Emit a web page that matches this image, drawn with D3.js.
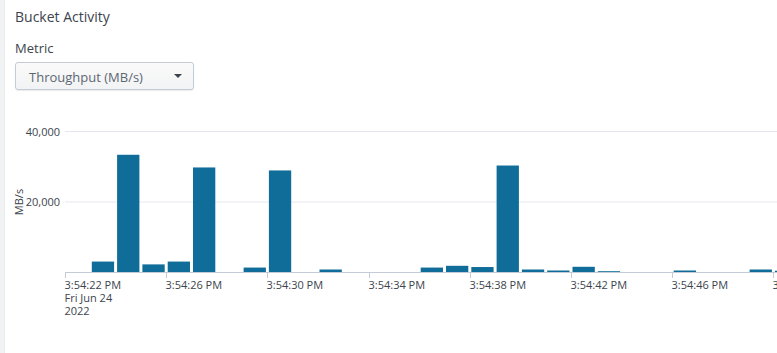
<!DOCTYPE html>
<html>
<head>
<meta charset="utf-8">
<script src="https://cdn.jsdelivr.net/npm/d3@7"></script>
<style>
  body { margin: 0; width: 777px; height: 353px; overflow: hidden; background: #fff; font-family: "Open Sans", sans-serif; }
  .strip { position: absolute; left: 0; top: 0; width: 4px; height: 353px; background: #f1f2f3; border-right: 1px solid #e9eaec; }
  .title { position: absolute; left: 15px; top: 7px; font-size: 14px; color: #3c444d; }
  .label { position: absolute; left: 15px; top: 39px; font-size: 13px; color: #3c444d; }
  .dropdown { position: absolute; left: 15px; top: 62px; width: 179px; height: 28px; box-sizing: border-box;
    border: 1px solid #c3cbd4; border-radius: 3px; background: linear-gradient(#fafafa, #f2f3f4);
    box-shadow: 0 1px 1px rgba(0,0,0,0.08); }
  .dropdown span { position: absolute; left: 13px; top: 5px; font-size: 13px; color: #5c6773; }
  .dropdown i { position: absolute; left: 158px; top: 11px; width: 0; height: 0;
    border-left: 4px solid transparent; border-right: 4px solid transparent; border-top: 4px solid #3c444d; }
  svg { position: absolute; left: 0; top: 0; }
</style>
</head>
<body>
<div class="strip"></div>
<div class="title">Bucket Activity</div>
<div class="label">Metric</div>
<div class="dropdown"><span>Throughput (MB/s)</span><i></i></div>
<svg id="chart" width="777" height="353"></svg>
<script>
// seconds after 3:54:22 PM, one bar per second
const seconds = [1, 2, 3, 4, 5, 7, 8, 10, 14, 15, 16, 17, 18, 19, 20, 21, 24, 27, 28];
const throughput = [3100, 33400, 2300, 3100, 29800, 1400, 28950, 850, 1400, 1900, 1550, 30350, 850, 570, 1620, 370, 570, 850, 500];
const yTicks = [20000, 40000];
const xTickSeconds = [0, 4, 8, 12, 16, 20, 24, 28];
const start = new Date(2022, 5, 24, 15, 54, 22);

const t = s => new Date(start.getTime() + s * 1000);

const svg = d3.select("#chart");
const x = d3.scaleTime().domain([t(0), t(30)]).range([65, 824]);
const y = d3.scaleLinear().domain([0, 40000]).range([272.5, 131.5]);

// grid
svg.append("g").selectAll("line").data(yTicks).enter().append("line")
  .attr("x1", 65).attr("x2", 777)
  .attr("y1", d => y(d)).attr("y2", d => y(d))
  .attr("stroke", "#e4e8ee").attr("stroke-width", 1);

svg.append("g").selectAll("text").data(yTicks).enter().append("text")
  .attr("x", 60).attr("y", d => y(d) + 4)
  .attr("text-anchor", "end")
  .attr("font-size", 11).attr("fill", "#3c444d")
  .text(d3.format(","));

svg.append("text")
  .attr("transform", "translate(23," + y(20000) + ") rotate(-90)")
  .attr("text-anchor", "middle")
  .attr("font-size", 11).attr("fill", "#3c444d")
  .text("MB/s");

// bars
svg.append("g").selectAll("rect").data(seconds).enter().append("rect")
  .attr("x", d => x(t(d)) + 1.5)
  .attr("width", d => x(t(d + 1)) - x(t(d)) - 3)
  .attr("y", (d, i) => y(throughput[i]))
  .attr("height", (d, i) => y(0) - y(throughput[i]))
  .attr("fill", "#106d99");

// x axis
const fmt = d3.timeFormat("%-I:%M:%S %p");
svg.append("line")
  .attr("x1", 65).attr("x2", 777).attr("y1", 272.5).attr("y2", 272.5)
  .attr("stroke", "#c3cbd4");

const ticks = svg.append("g").selectAll("g").data(xTickSeconds).enter().append("g")
  .attr("transform", d => "translate(" + (Math.round(x(t(d))) + 0.5) + ",0)");
ticks.append("line").attr("y1", 272.5).attr("y2", 278).attr("stroke", "#c3cbd4");
const lbl = ticks.append("text")
  .attr("x", -1).attr("y", 289)
  .attr("font-size", 11).attr("fill", "#3c444d");
lbl.append("tspan").text(d => fmt(t(d)));
lbl.filter(d => d === 0).append("tspan").attr("x", -1).attr("dy", 13).text(d3.timeFormat("%a %b %d")(start));
lbl.filter(d => d === 0).append("tspan").attr("x", -1).attr("dy", 13).text(d3.timeFormat("%Y")(start));
</script>
</body>
</html>
